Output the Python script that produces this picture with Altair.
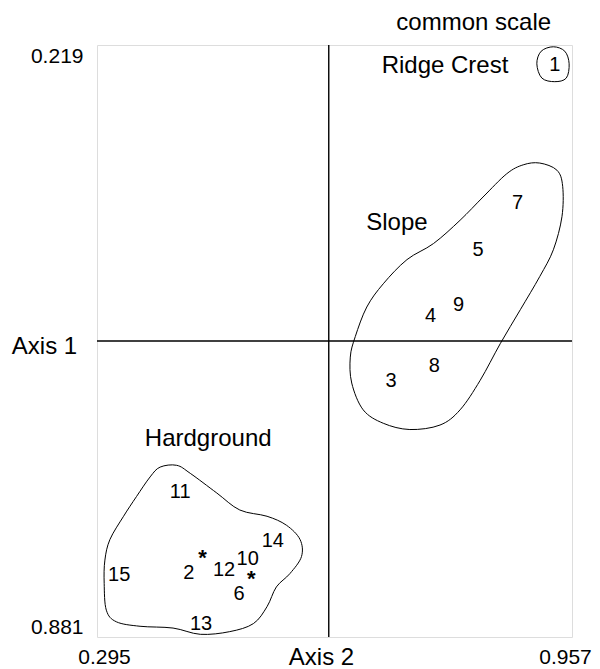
import altair as alt
import pandas as pd

FONT = "Liberation Sans"

# Axis extents (tick labels)
X_TICKS = [0.295, 0.957]
Y_TICKS = [0.219, 0.881]
MID_X = 0.618
MID_Y = 0.550

# Numbered sample points
POINT_IDS = ["1", "2", "3", "4", "5", "6", "7", "8", "9", "10", "11", "12", "13", "14", "15"]
POINT_X = [0.933, 0.423, 0.705, 0.760, 0.826, 0.493, 0.881, 0.765, 0.799, 0.505, 0.411, 0.472, 0.440, 0.540, 0.326]
POINT_Y = [0.241, 0.809, 0.595, 0.522, 0.448, 0.833, 0.396, 0.578, 0.510, 0.794, 0.719, 0.806, 0.866, 0.774, 0.812]

# Asterisk markers
STAR_X = [0.442, 0.510]
STAR_Y = [0.787, 0.811]

# Group labels
GROUP_NAMES = ["Ridge Crest", "Slope", "Hardground"]
GROUP_X = [0.780, 0.713, 0.450]
GROUP_Y = [0.242, 0.418, 0.660]

# Header note (placed above the frame, in data units)
NOTE_TEXT = ["common scale"]
NOTE_X = [0.820]
NOTE_Y = [0.194]

# Group outlines
RIDGE_X = [0.931, 0.947, 0.953, 0.949, 0.933, 0.915, 0.908, 0.914]
RIDGE_Y = [0.221, 0.226, 0.240, 0.256, 0.260, 0.256, 0.240, 0.226]

SLOPE_X = [0.889, 0.912, 0.936, 0.944, 0.943, 0.931, 0.912, 0.885, 0.857, 0.829, 0.801, 0.773, 0.731,
           0.694, 0.666, 0.650, 0.648, 0.655, 0.671, 0.694, 0.727, 0.764, 0.801, 0.833, 0.866]
SLOPE_Y = [0.353, 0.351, 0.359, 0.377, 0.411, 0.448, 0.478, 0.515, 0.553, 0.594, 0.627, 0.644, 0.649,
           0.642, 0.627, 0.597, 0.568, 0.545, 0.512, 0.486, 0.459, 0.441, 0.415, 0.389, 0.363]

HARD_X = [0.383, 0.406, 0.425, 0.462, 0.494, 0.532, 0.559, 0.578, 0.580, 0.564, 0.545, 0.532, 0.513,
          0.480, 0.439, 0.401, 0.355, 0.322, 0.308, 0.305, 0.306, 0.313, 0.332, 0.350, 0.369]
HARD_Y = [0.691, 0.689, 0.698, 0.720, 0.739, 0.746, 0.756, 0.772, 0.791, 0.810, 0.825, 0.847, 0.866,
          0.875, 0.878, 0.871, 0.869, 0.864, 0.851, 0.821, 0.795, 0.772, 0.746, 0.724, 0.702]

points = pd.DataFrame({"id": POINT_IDS, "x": POINT_X, "y": POINT_Y})
stars = pd.DataFrame({"x": STAR_X, "y": STAR_Y, "s": ["*"] * len(STAR_X)})
groups = pd.DataFrame({"name": GROUP_NAMES, "x": GROUP_X, "y": GROUP_Y})
notes = pd.DataFrame({"t": NOTE_TEXT, "x": NOTE_X, "y": NOTE_Y})

rows = []
for name, xs, ys in [("Ridge Crest", RIDGE_X, RIDGE_Y), ("Slope", SLOPE_X, SLOPE_Y), ("Hardground", HARD_X, HARD_Y)]:
    for i, (a, b) in enumerate(zip(xs, ys)):
        rows.append({"group": name, "i": i, "x": a, "y": b})
hulls = pd.DataFrame(rows)

xscale = alt.Scale(domain=X_TICKS, zero=False, nice=False)
yscale = alt.Scale(domain=Y_TICKS, zero=False, nice=False, reverse=True)

x_axis = alt.Axis(values=X_TICKS, format=".3f", grid=False, ticks=False, domain=False,
                  labelFont=FONT, labelFontSize=21, labelColor="black", labelPadding=9,
                  labelOffset={"condition": {"test": "datum.value > 0.9", "value": -7}, "value": 7},
                  labelFlush=False,
                  title="Axis 2", titleFont=FONT, titleFontSize=24, titleFontWeight="normal",
                  titleColor="black", titleX=224, titleY=20, titleAlign="center", titleBaseline="middle")
y_axis = alt.Axis(values=Y_TICKS, format=".3f", grid=False, ticks=False, domain=False,
                  labelFont=FONT, labelFontSize=21, labelColor="black", labelPadding=14, labelFlush=True,
                  title="Axis 1", titleFont=FONT, titleFontSize=24, titleFontWeight="normal",
                  titleColor="black", titleAngle=0, titleX=-53, titleY=301, titleAlign="center",
                  titleBaseline="middle")

base_pts = alt.Chart(points).mark_text(font=FONT, fontSize=20, color="black", baseline="middle").encode(
    x=alt.X("x:Q", scale=xscale, axis=x_axis),
    y=alt.Y("y:Q", scale=yscale, axis=y_axis),
    text="id:N",
)

star_layer = alt.Chart(stars).mark_text(font=FONT, fontSize=22, fontWeight="bold", color="black",
                                         baseline="middle", dy=5).encode(
    x=alt.X("x:Q", scale=xscale), y=alt.Y("y:Q", scale=yscale), text="s:N")

group_layer = alt.Chart(groups).mark_text(font=FONT, fontSize=24, color="black", baseline="middle").encode(
    x=alt.X("x:Q", scale=xscale), y=alt.Y("y:Q", scale=yscale), text="name:N")

note_layer = alt.Chart(notes).mark_text(font=FONT, fontSize=24, color="black", baseline="middle").encode(
    x=alt.X("x:Q", scale=xscale), y=alt.Y("y:Q", scale=yscale), text="t:N")

hull_layer = alt.Chart(hulls).mark_line(interpolate="cardinal-closed", color="black", strokeWidth=1).encode(
    x=alt.X("x:Q", scale=xscale), y=alt.Y("y:Q", scale=yscale),
    detail="group:N", order="i:Q")

vline = alt.Chart(pd.DataFrame({"x": [MID_X]})).mark_rule(color="black", strokeWidth=1.4).encode(
    x=alt.X("x:Q", scale=xscale))
hline = alt.Chart(pd.DataFrame({"y": [MID_Y]})).mark_rule(color="black", strokeWidth=1.4).encode(
    y=alt.Y("y:Q", scale=yscale))

chart = alt.layer(base_pts, vline, hline, hull_layer, star_layer, group_layer, note_layer).properties(
    width=475, height=592,
    autosize=alt.AutoSizeParams(type="none"),
    padding={"left": 89, "top": 37, "right": 20, "bottom": 32},
).configure_view(stroke="black", strokeWidth=2).configure(background="white")

chart.save("out.html", embed_options={"renderer": "svg", "actions": False})
